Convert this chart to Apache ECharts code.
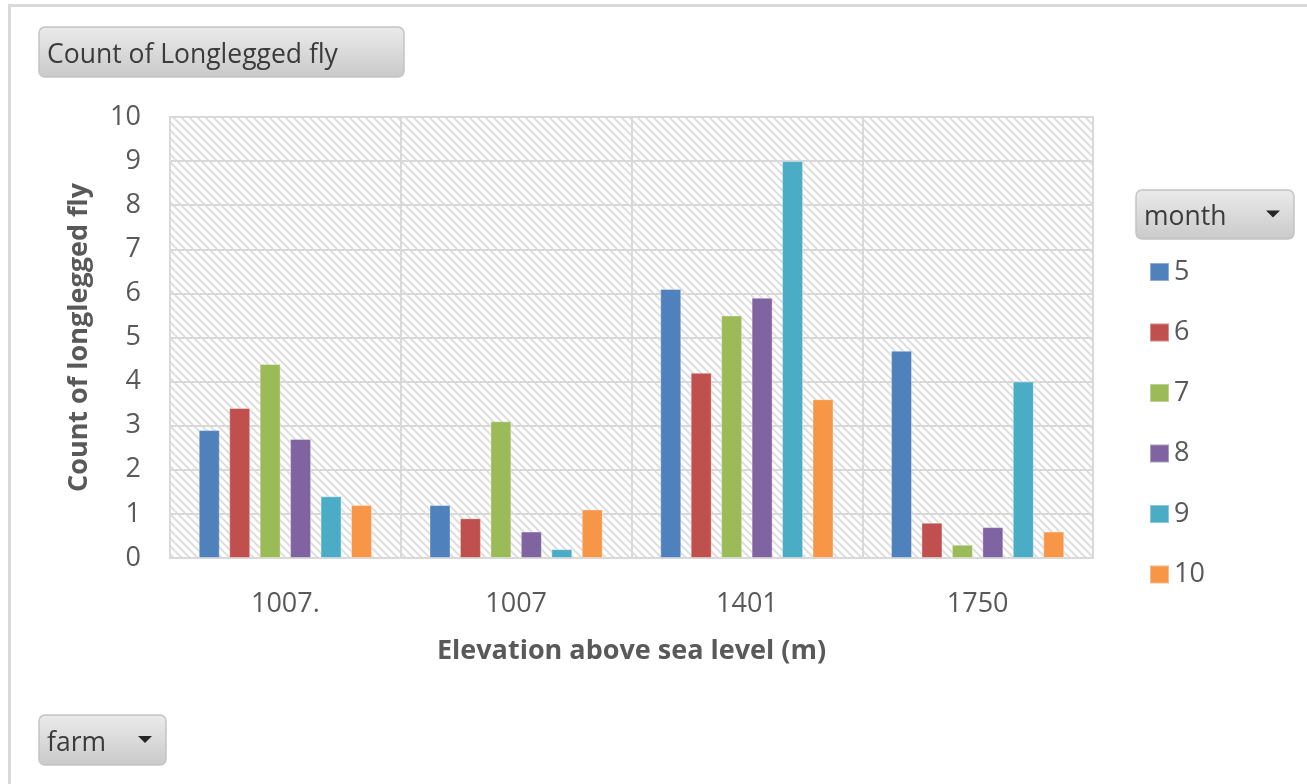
<!DOCTYPE html>
<html>
<head>
<meta charset="utf-8">
<script src="https://cdn.jsdelivr.net/npm/echarts@6/dist/echarts.min.js"></script>
<style>
  html, body { margin: 0; padding: 0; background: #ffffff; }
  #chart { width: 1307px; height: 784px; }
</style>
</head>
<body>
<div id="chart"></div>
<script>
// Elevation categories (x axis)
const elevations = ['1007.', '1007', '1401', '1750'];
// Months shown in the legend
const months = ['5', '6', '7', '8', '9', '10'];
// Count of longlegged fly per month, one value per elevation
const month5  = [2.9, 1.2, 6.1, 4.7];
const month6  = [3.4, 0.9, 4.2, 0.8];
const month7  = [4.4, 3.1, 5.5, 0.3];
const month8  = [2.7, 0.6, 5.9, 0.7];
const month9  = [1.4, 0.2, 9.0, 4.0];
const month10 = [1.2, 1.1, 3.6, 0.6];
// Value axis ticks
const yTicks = [0, 1, 2, 3, 4, 5, 6, 7, 8, 9, 10];

const seriesValues = [month5, month6, month7, month8, month9, month10];
const palette = ['#4F81BD', '#C0504D', '#9BBB59', '#8064A2', '#4BACC6', '#F79646'];
const FONT = 'Open Sans';

// Diagonal hatch used as the plot-area fill
function hatchTile() {
  const c = document.createElement('canvas');
  c.width = 8; c.height = 8;
  const g = c.getContext('2d');
  g.fillStyle = '#ffffff';
  g.fillRect(0, 0, 8, 8);
  g.strokeStyle = '#dedede';
  g.lineWidth = 2;
  g.beginPath();
  g.moveTo(-2, -2); g.lineTo(10, 10);
  g.moveTo(-2, 6);  g.lineTo(2, 10);
  g.moveTo(6, -2);  g.lineTo(10, 2);
  g.stroke();
  return c;
}

// Gray pivot-style field button
function fieldButton(x, y, w, h, label, withArrow) {
  const children = [
    {
      type: 'rect',
      shape: { x: 0, y: 0, width: w, height: h, r: 6 },
      style: {
        fill: new echarts.graphic.LinearGradient(0, 0, 0, 1, [
          { offset: 0, color: '#ebebeb' },
          { offset: 1, color: '#c9c9c9' }
        ]),
        stroke: '#c4c4c4',
        lineWidth: 1.5
      }
    },
    {
      type: 'text',
      style: {
        x: 8, y: h / 2 + 3,
        text: label,
        fill: '#3b3b3b',
        font: '26.5px "' + FONT + '"',
        verticalAlign: 'middle',
        align: 'left'
      }
    }
  ];
  if (withArrow) {
    children.push({
      type: 'polygon',
      shape: { points: [[w - 28, h / 2 - 4], [w - 14, h / 2 - 4], [w - 21, h / 2 + 3]] },
      style: { fill: '#262626' }
    });
  }
  return { type: 'group', x: x, y: y, children: children };
}

const chart = echarts.init(document.getElementById('chart'), null, { renderer: 'canvas' });

const option = {
  animation: false,
  backgroundColor: '#ffffff',
  color: palette,
  textStyle: { fontFamily: FONT },
  grid: {
    left: 170, right: 214, top: 117, bottom: 226,
    show: true,
    backgroundColor: { image: hatchTile(), repeat: 'repeat' },
    borderColor: '#d9d9d9',
    borderWidth: 2
  },
  legend: {
    orient: 'vertical',
    left: 1149,
    top: 257,
    padding: 0,
    icon: 'rect',
    itemWidth: 19,
    itemHeight: 18,
    itemGap: 30.5,
    data: months,
    textStyle: { color: '#595959', fontSize: 27, fontFamily: FONT, lineHeight: 30 }
  },
  xAxis: {
    type: 'category',
    data: elevations,
    axisLine: { show: true, lineStyle: { color: '#d9d9d9', width: 2 } },
    axisTick: { show: false },
    splitLine: { show: true, interval: 0, lineStyle: { color: '#d9d9d9', width: 2 } },
    axisLabel: { color: '#595959', fontSize: 27, fontFamily: FONT, margin: 33 },
    name: 'Elevation above sea level (m)',
    nameLocation: 'middle',
    nameGap: 80,
    nameTextStyle: { color: '#595959', fontSize: 27, fontWeight: 'bold', fontFamily: FONT }
  },
  yAxis: {
    type: 'value',
    min: 0, max: 10, interval: 1,
    axisLine: { show: false },
    axisTick: { show: false },
    splitLine: { show: true, lineStyle: { color: '#d9d9d9', width: 2 } },
    axisLabel: {
      color: '#595959', fontSize: 27, fontFamily: FONT, margin: 29,
      formatter: function (v) { return yTicks.indexOf(v) >= 0 ? String(v) : ''; }
    },
    name: 'Count of longlegged fly',
    nameLocation: 'middle',
    nameGap: 77,
    nameTextStyle: { color: '#595959', fontSize: 27, fontWeight: 'bold', fontFamily: FONT }
  },
  series: months.map(function (m, i) {
    return {
      name: m,
      type: 'bar',
      data: seriesValues[i],
      barWidth: 21,
      barGap: '45%',
      itemStyle: { color: palette[i], borderColor: 'rgba(255,255,255,0.35)', borderWidth: 1 }
    };
  }),
  graphic: [
    // outer frame edges
    { type: 'rect', shape: { x: 8, y: 4, width: 1299, height: 3 }, style: { fill: '#dadada' }, silent: true },
    { type: 'rect', shape: { x: 8, y: 4, width: 3, height: 780 }, style: { fill: '#dadada' }, silent: true },
    fieldButton(39, 27, 365, 50, 'Count of Longlegged fly', false),
    fieldButton(1136, 190, 158, 49, 'month', true),
    fieldButton(39, 715, 127, 50, 'farm', true)
  ]
};

chart.setOption(option);
</script>
</body>
</html>
